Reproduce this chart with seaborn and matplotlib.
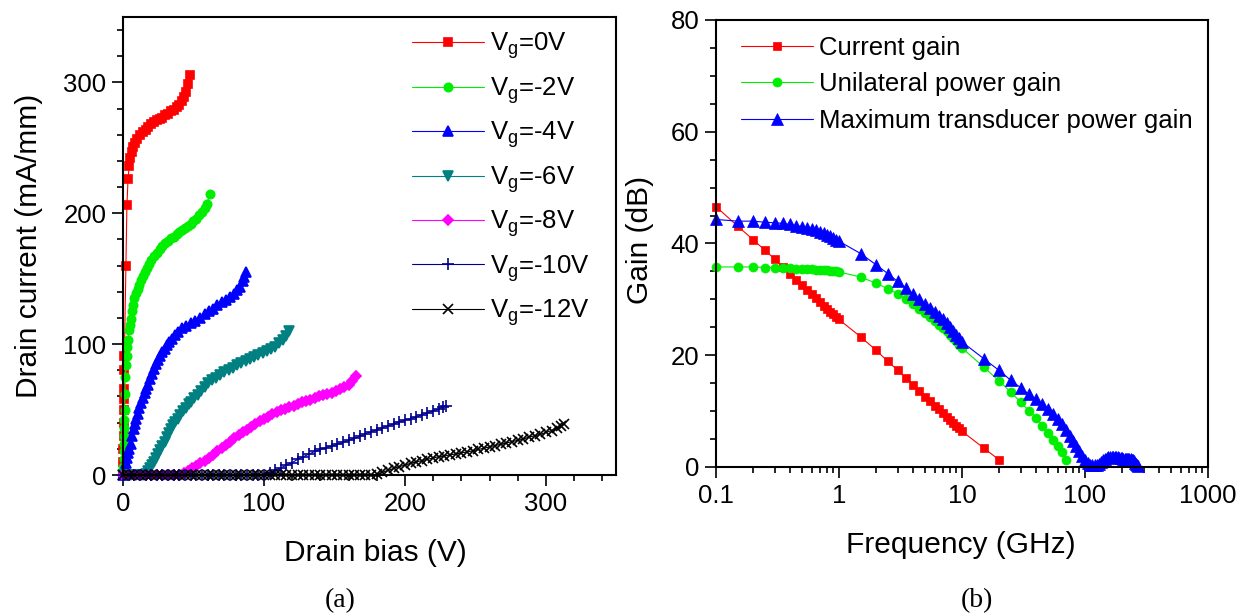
import matplotlib
matplotlib.use('Agg')
import matplotlib.pyplot as plt
import matplotlib.ticker as ticker
import seaborn as sns

# ---- (a) drain current vs drain bias, one list pair per gate voltage ----
vd_0 = [0, 0.2, 0.3, 0.4, 0.5, 0.6, 0.7, 0.8, 0.9, 1.0, 2.1, 2.8, 3.6, 4.4, 5.2, 6.2, 7.2, 8.5, 10, 12, 14, 16,
        18, 20, 22, 24, 26, 28, 30, 32, 34, 36, 38, 40, 42, 43.5, 45, 46.3, 47.8]
id_0 = [0, 10, 20, 30, 40, 50, 58, 66, 80, 91, 160, 206, 226, 236, 242, 247, 251, 254, 257, 260, 262, 264,
        266, 268, 270, 271, 272, 273, 275, 276, 278, 279, 281, 283, 286, 289, 293, 299, 306]

vd_2 = [0, 0.2, 0.4, 0.5, 0.6, 0.8, 0.9, 1.0, 1.2, 1.4, 1.6, 2.1, 2.6, 3.2, 3.8, 4.5, 5.1, 5.7, 6.3, 6.9, 8,
        9.2, 10.4, 11.6, 13, 14, 15.5, 17, 18.5, 20, 22, 24, 26, 28, 30, 32, 34, 36, 38, 40, 42, 44, 46, 48,
        50, 52, 54, 56, 58, 59.5, 61.7]
id_2 = [0, 6, 12, 18, 24, 30, 36, 42, 50, 62, 75, 84, 91, 98, 103, 111, 115, 119, 125, 130, 135,
        139, 142, 145, 149, 152, 155, 158, 161, 164, 167, 170, 173, 175, 177, 179, 181, 182, 184, 186, 187, 189, 190, 192,
        194, 196, 199, 201, 204, 207, 215]

vd_4 = [0, 0.6, 1.2, 2, 2.8, 3.6, 4.6, 5.7, 6.6, 7.5, 8.4, 9.2, 10.4, 11.6, 12.8, 14, 15.3, 16.5, 17.5, 19,
        20.5, 22, 23.5, 25, 26.5, 28, 29.5, 31, 33, 35, 37, 39, 42, 45, 48, 51, 55, 58, 61, 64, 67, 70, 73, 76,
        79, 81, 83, 85, 86, 87]
id_4 = [0, 2, 5, 9, 13, 17, 20, 24, 30, 35, 39, 43, 47, 51, 55, 59, 63, 66, 69, 73,
        77, 81, 85, 88, 91, 94, 96, 99, 102, 104, 107, 109, 112, 114, 116, 118, 120, 123, 125, 127, 130, 132, 134, 136,
        138, 141, 144, 148, 151, 155]

vd_6 = [0, 3, 6, 9, 12, 14.5, 16, 17.5, 19, 20.5, 22, 23.5, 25, 26.5, 28, 29.5, 31, 32.5, 34, 35.5, 37, 38.8,
        40.5, 42.5, 44.5, 46.5, 48.5, 50.6, 53, 55.5, 58, 60.5, 63, 66, 69, 72, 75, 78, 81, 84, 87, 90, 93, 96,
        99, 102, 105, 108, 111, 113.5, 116, 118]
id_6 = [0, 0, 0, 0, 0, 0, 1, 3, 5, 7.5, 10, 13, 16, 19, 22, 25.5, 29, 32, 35, 38, 40.5, 43,
        46, 49, 51.5, 54, 56, 58.5, 61.5, 64, 67, 70, 72.5, 74.5, 76.5, 78.5, 80.5, 82, 84, 85.5, 87, 88.5, 90, 91.5,
        93, 94.5, 96, 98, 100.5, 103.5, 106.5, 110]

vd_8 = [0, 4, 8, 12, 16, 20, 24, 28, 32, 36, 40, 43, 46, 49, 52, 55, 58, 61, 64, 67, 70, 73, 76, 79, 82, 85,
        88, 91, 94, 97, 100, 103, 106, 109, 112, 115, 118, 121, 124, 127, 130, 133, 136, 139, 142, 145, 148,
        151, 154, 157, 160, 162.5, 165]
id_8 = [0, 0, 0, 0, 0, 0, 0, 0, 0, 0, 0, 1.5, 3, 5, 7, 9, 11, 13, 15.5, 18, 20.5, 23, 25.5, 28, 30.5, 32.5,
        34.5, 37, 39, 41, 43, 44.5, 46.5, 48, 49.5, 50.5, 52, 53, 54, 55.5, 56.5, 57.5, 58.5, 60, 61, 62, 63,
        64, 65.5, 67, 69, 72, 76]

vd_10 = [0, 4, 8, 12, 16, 20, 24, 28, 32, 36, 40, 44, 48, 52, 56, 60, 64, 68, 72, 76, 80, 84, 88, 92, 96,
         100, 104, 108, 112, 116, 120, 124, 128, 132, 136, 140, 144, 148, 152, 156, 160, 164, 168, 172, 176,
         180, 184, 188, 192, 196, 200, 204, 208, 212, 216, 220, 224, 227, 229]
id_10 = [0, 0, 0, 0, 0, 0, 0, 0, 0, 0, 0, 0, 0, 0, 0, 0, 0, 0, 0, 0, 0, 0, 0, 0, 0,
         0, 1.5, 3.5, 5.5, 7.5, 9.5, 12, 14, 16, 18, 19.5, 21, 22, 23.5, 25, 26.5, 28, 29.5, 31.5, 33,
         34.5, 36, 37.5, 39, 40.5, 42, 43, 44.5, 46, 47.5, 49, 50.5, 52, 53]

vd_12 = [0, 4, 8, 12, 16, 20, 24, 28, 32, 36, 40, 44, 48, 52, 56, 60, 64, 68, 72, 76, 80, 84, 88, 92, 96,
         100, 104, 108, 112, 116, 120, 124, 128, 132, 136, 140, 144, 148, 152, 156, 160, 164, 168, 172, 176,
         180, 184, 188, 192, 196, 200, 204, 208, 212, 216, 220, 224, 228, 232, 236, 240, 244, 248, 252, 256,
         260, 264, 268, 272, 276, 280, 284, 288, 292, 296, 300, 304, 308, 311, 313]
id_12 = [0, 0, 0, 0, 0, 0, 0, 0, 0, 0, 0, 0, 0, 0, 0, 0, 0, 0, 0, 0, 0, 0, 0, 0, 0,
         0, 0, 0, 0, 0, 0, 0, 0, 0, 0, 0, 0, 0, 0, 0, 0, 0, 0, 0, 0,
         0.5, 2, 3.5, 5, 6.5, 7.5, 9, 10, 11, 12, 13, 14, 14.5, 15.5, 16, 17, 17.5, 18.5, 19.5, 20.5,
         21.5, 22.5, 23.5, 24.5, 25.5, 26.5, 27.5, 29, 30, 31, 32.5, 34, 36, 37.5, 39]

gate_labels = ['V$_g$=0V', 'V$_g$=-2V', 'V$_g$=-4V', 'V$_g$=-6V', 'V$_g$=-8V', 'V$_g$=-10V', 'V$_g$=-12V']

# ---- (b) gains vs frequency ----
freq_lo = [0.1, 0.15, 0.2, 0.25, 0.3, 0.35, 0.4, 0.45, 0.5, 0.55, 0.6, 0.65, 0.7, 0.75, 0.8, 0.85, 0.9, 0.95,
           1.0, 1.5, 2, 2.5, 3, 3.5, 4, 4.5, 5, 5.5, 6, 6.5, 7, 7.5, 8, 8.5, 9, 9.5, 10, 15, 20]
freq_hi = [25, 30, 35, 40, 45, 50, 55, 60, 65, 70, 75, 80, 85, 90, 95, 100, 105, 110, 115, 120, 125, 130,
           135, 140, 145, 150, 155, 160, 165, 170, 175, 180, 185, 190, 195, 200, 205, 210, 215, 220, 225, 230,
           235, 240, 245, 250, 255, 260, 265, 270]

current_gain = [46.6, 43.1, 40.7, 38.8, 37.2, 35.8, 34.5, 33.5, 32.5, 31.7, 30.9, 30.2, 29.5, 28.9, 28.3,
                27.8, 27.3, 26.8, 26.4, 23.3, 20.9, 18.9, 17.3, 15.9, 14.7, 13.6, 12.6, 11.8, 11.0, 10.3, 9.6,
                9.0, 8.4, 7.9, 7.4, 6.9, 6.4, 3.4, 1.3]
unilateral_gain = [35.8, 35.8, 35.8, 35.7, 35.7, 35.6, 35.6, 35.5, 35.5, 35.4, 35.4, 35.3, 35.3, 35.2, 35.2,
                   35.1, 35.0, 35.0, 34.9, 34.0, 32.9, 31.9, 31.0, 30.0, 29.2, 28.3, 27.5, 26.8, 26.1, 25.5,
                   24.9, 24.3, 23.7, 23.1, 22.5, 21.9, 21.3, 17.9, 15.4,
                   13.4, 11.6, 10.1, 8.8, 7.4, 6.1, 4.9, 3.8, 2.6, 1.3]
transducer_gain = [44.3, 44.0, 44.0, 43.8, 43.7, 43.6, 43.4, 43.2, 43.0, 42.8, 42.6, 42.4, 42.1, 41.9, 41.6,
                   41.3, 41.0, 40.7, 40.4, 38.2, 36.2, 34.6, 33.2, 32.0, 31.0, 30.0, 29.2, 28.5, 27.8, 27.1,
                   26.4, 25.7, 25.0, 24.4, 23.7, 23.0, 22.4, 19.4, 17.3,
                   15.5, 14.2, 13.0, 12.1, 11.2, 10.3, 9.4, 8.5, 7.7, 6.6, 5.6, 4.7, 3.8, 2.9, 2.0, 1.2, 0.7,
                   0.4, 0.3, 0.3, 0.4, 0.6, 0.9, 1.2, 1.4, 1.6, 1.7, 1.8, 1.8, 1.8, 1.8, 1.7, 1.7, 1.6, 1.6,
                   1.6, 1.5, 1.5, 1.5, 1.5, 1.4, 1.4, 1.4, 1.3, 1.2, 1.0, 0.8, 0.6, 0.4, 0.2]
gain_labels = ['Current gain', 'Unilateral power gain', 'Maximum transducer power gain']

sns.set_theme(style='ticks')
plt.rcParams['font.family'] = ['Liberation Sans', 'DejaVu Sans']
plt.rcParams['mathtext.default'] = 'regular'
for key in ['text.color', 'axes.labelcolor', 'xtick.color', 'ytick.color', 'axes.edgecolor']:
    plt.rcParams[key] = 'black'

fig = plt.figure(figsize=(12.37, 6.13), dpi=100)
ax1 = fig.add_axes([0.0994, 0.2251, 0.3989, 0.7472])
ax2 = fig.add_axes([0.5788, 0.2382, 0.3977, 0.7292])

curves_a = [
    (vd_0, id_0, '#ff0000', 's', 5.5),
    (vd_2, id_2, '#00ee00', 'o', 6),
    (vd_4, id_4, '#0000ff', '^', 7),
    (vd_6, id_6, '#008080', 'v', 7),
    (vd_8, id_8, '#ff00ff', 'D', 5.5),
    (vd_10, id_10, '#000090', '+', 8.5),
    (vd_12, id_12, '#000000', 'x', 7.5),
]
for (x, y, col, mk, ms), lab in zip(curves_a, gate_labels):
    sns.lineplot(x=x, y=y, ax=ax1, color=col, marker=mk, markersize=ms, markeredgecolor=col,
                 markeredgewidth=1.2, lw=0.8, estimator=None, sort=False, label=lab, clip_on=False)

ax1.set_xlim(0, 350)
ax1.set_ylim(0, 350)
ax1.xaxis.set_major_locator(ticker.MultipleLocator(100))
ax1.xaxis.set_minor_locator(ticker.MultipleLocator(20))
ax1.yaxis.set_major_locator(ticker.MultipleLocator(100))
ax1.yaxis.set_minor_locator(ticker.MultipleLocator(20))
ax1.set_xlabel('Drain bias (V)', fontsize=21.5)
ax1.set_ylabel('Drain current (mA/mm)', fontsize=21.5)
ax1.xaxis.set_label_coords(0.511, -0.17)
ax1.yaxis.set_label_coords(-0.19, 0.5)
ax1.legend(loc='upper left', bbox_to_anchor=(0.585, 0.97), frameon=False, fontsize=18.5,
           handlelength=2.8, handletextpad=0.25, labelspacing=0.535, borderpad=0, borderaxespad=0,
           numpoints=1)

curves_b = [
    (freq_lo, current_gain, '#ff0000', 's', 6),
    (freq_lo + freq_hi[:10], unilateral_gain, '#00ee00', 'o', 6.5),
    (freq_lo + freq_hi, transducer_gain, '#0000ff', '^', 8),
]
for (x, y, col, mk, ms), lab in zip(curves_b, gain_labels):
    sns.lineplot(x=x, y=y, ax=ax2, color=col, marker=mk, markersize=ms, markeredgecolor=col,
                 markeredgewidth=0.5, lw=0.8, estimator=None, sort=False, label=lab, clip_on=False)

ax2.set_xscale('log')
ax2.set_xlim(0.1, 1000)
ax2.set_ylim(0, 80)
ax2.xaxis.set_major_locator(ticker.LogLocator(base=10))
ax2.xaxis.set_minor_locator(ticker.LogLocator(base=10, subs=range(2, 10)))
ax2.xaxis.set_major_formatter(ticker.FuncFormatter(lambda v, _: f'{v:g}'))
ax2.xaxis.set_minor_formatter(ticker.NullFormatter())
ax2.yaxis.set_major_locator(ticker.MultipleLocator(20))
ax2.yaxis.set_minor_locator(ticker.MultipleLocator(5))
ax2.set_xlabel('Frequency (GHz)', fontsize=21.5)
ax2.set_ylabel('Gain (dB)', fontsize=21.5)
ax2.xaxis.set_label_coords(0.498, -0.175)
ax2.yaxis.set_label_coords(-0.155, 0.508)
ax2.legend(loc='upper left', bbox_to_anchor=(0.05, 0.965), frameon=False, fontsize=18.5,
           handlelength=2.8, handletextpad=0.25, labelspacing=0.5, borderpad=0, borderaxespad=0,
           numpoints=1)

for ax in (ax1, ax2):
    for sp in ax.spines.values():
        sp.set_visible(True)
        sp.set_linewidth(1.5)
        sp.set_color('black')
    ax.tick_params(which='major', length=8, width=1.2, labelsize=18.5, color='black', pad=4)
    ax.tick_params(which='minor', length=4.5, width=1.2, color='black')
    ax.xaxis.label.set_va('center')
    ax.yaxis.label.set_va('center')

fig.text(0.275, 0.021, '(a)', fontsize=20, family='Liberation Serif', ha='center', va='center')
fig.text(0.790, 0.021, '(b)', fontsize=20, family='Liberation Serif', ha='center', va='center')

fig.savefig('out.png', dpi=100)
